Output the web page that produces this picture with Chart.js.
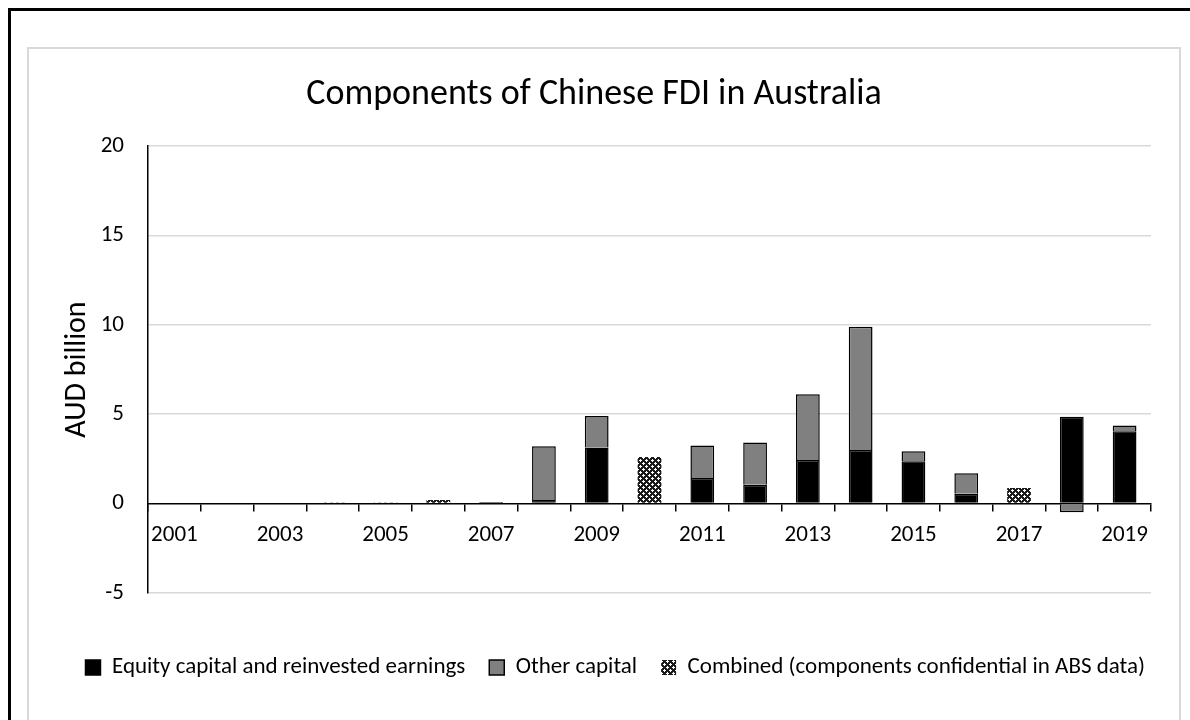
<!DOCTYPE html>
<html>
<head>
<meta charset="utf-8">
<title>Components of Chinese FDI in Australia</title>
<script src="https://cdn.jsdelivr.net/npm/chart.js@4.4.1/dist/chart.umd.min.js"></script>
<style>
  html, body { margin: 0; padding: 0; background: #fff; }
  body { width: 1190px; height: 720px; position: relative; overflow: hidden; }
  .outer { position: absolute; left: 8px; top: 8px; width: 1300px; height: 900px;
           border-left: 3px solid #000; border-top: 3px solid #000; }
  .panel { position: absolute; left: 27px; top: 47px; width: 1150px; height: 900px;
           border: 2px solid #d9d9d9; }
  #box { position: absolute; left: 0; top: 0; width: 1190px; height: 720px; }
</style>
</head>
<body>
<div class="outer"></div>
<div class="panel"></div>
<div id="box"><canvas id="chartFDI"></canvas></div>

<script>
// ---- data (AUD billion) ----
const years = ["2001","2002","2003","2004","2005","2006","2007","2008","2009","2010",
               "2011","2012","2013","2014","2015","2016","2017","2018","2019"];
const equity   = [null, null, null, null, null, null, 0.08, 0.20, 3.14, null,
                  1.43, 1.05, 2.44, 3.00, 2.36, 0.55, null, 4.85, 4.04];
const otherCap = [null, null, null, null, null, null, null, 3.00, 1.76, null,
                  1.81, 2.36, 3.68, 6.89, 0.56, 1.14, null, -0.49, 0.33];
const combined = [null, null, null, 0.05, 0.02, 0.20, null, null, null, 2.60,
                  null, null, null, null, null, null, 0.87, null, null];
const yTicks = [-5, 0, 5, 10, 15, 20];

const FONT = "Carlito, Lato, 'Open Sans', sans-serif";

// small checker tile for the "combined" bars
function checkerPattern() {
  const c = document.createElement("canvas");
  c.width = 6; c.height = 6;
  const g = c.getContext("2d");
  g.fillStyle = "#1a1a1a";
  g.fillRect(0, 0, 6, 6);
  g.fillStyle = "#ffffff";
  g.fillRect(1, 0, 1, 3); g.fillRect(0, 1, 3, 1);
  g.fillRect(4, 3, 1, 3); g.fillRect(3, 4, 3, 1);
  return g.createPattern(c, "repeat");
}

// push the legend row a bit to the right of the plot edge
const legendNudge = {
  id: "legendNudge",
  afterLayout(chart) {
    if (!chart.legend) return;
    chart.legend.left += 18;
    chart.legend.right += 18;
  }
};

const ctx = document.getElementById("chartFDI").getContext("2d");
const pattern = checkerPattern();

new Chart(ctx, {
  type: "bar",
  data: {
    labels: years,
    datasets: [
      { label: "Equity capital and reinvested earnings", data: equity,
        backgroundColor: "#000000", borderColor: "#000000", borderWidth: 1.5 },
      { label: "Other capital", data: otherCap,
        backgroundColor: "#808080", borderColor: "#000000", borderWidth: 1.5 },
      { label: "Combined (components confidential in ABS data)", data: combined,
        backgroundColor: pattern, borderWidth: 0 }
    ]
  },
  plugins: [legendNudge],
  options: {
    responsive: true,
    maintainAspectRatio: false,
    animation: false,
    datasets: { bar: { categoryPercentage: 1, barPercentage: 0.45 } },
    layout: { padding: { top: 0, left: 37, right: 39, bottom: 31 } },
    plugins: {
      title: {
        display: true,
        text: "Components of Chinese FDI in Australia",
        color: "#000",
        font: { family: FONT, size: 36, weight: "normal" },
        padding: { top: 73, bottom: 30 }
      },
      legend: {
        position: "bottom",
        align: "end",
        title: { display: true, text: " ", font: { size: 1 }, padding: { top: 0, bottom: 38 } },
        labels: {
          color: "#000",
          boxWidth: 15, boxHeight: 15,
          padding: 24,
          font: { family: FONT, size: 23 }
        }
      },
      tooltip: { enabled: false }
    },
    scales: {
      x: {
        stacked: true,
        position: { y: 0 },
        offset: true,
        grid: { offset: true, drawOnChartArea: false, drawTicks: true, tickLength: 7,
                color: "#000", lineWidth: 1.5 },
        border: { color: "#000", width: 1.5 },
        ticks: {
          autoSkip: false, maxRotation: 0, padding: 11, color: "#000",
          font: { family: FONT, size: 23 },
          callback: function (v, i) { return i % 2 === 0 ? this.getLabelForValue(v) : ""; }
        }
      },
      y: {
        stacked: true,
        min: -5, max: 20,
        afterBuildTicks: s => { s.ticks = yTicks.map(v => ({ value: v })); },
        afterFit: s => { s.width = 111; },
        grid: {
          drawTicks: false, lineWidth: 1.5,
          color: c => (c.tick && c.tick.value === 0 ? "rgba(0,0,0,0)" : "#d9d9d9")
        },
        border: { color: "#000", width: 1.5 },
        ticks: { padding: 24, color: "#000", font: { family: FONT, size: 23 } },
        title: {
          display: true, text: "AUD billion", color: "#000",
          font: { family: FONT, size: 30 },
          padding: { top: 22, bottom: 4 }
        }
      }
    }
  }
});
</script>
</body>
</html>
